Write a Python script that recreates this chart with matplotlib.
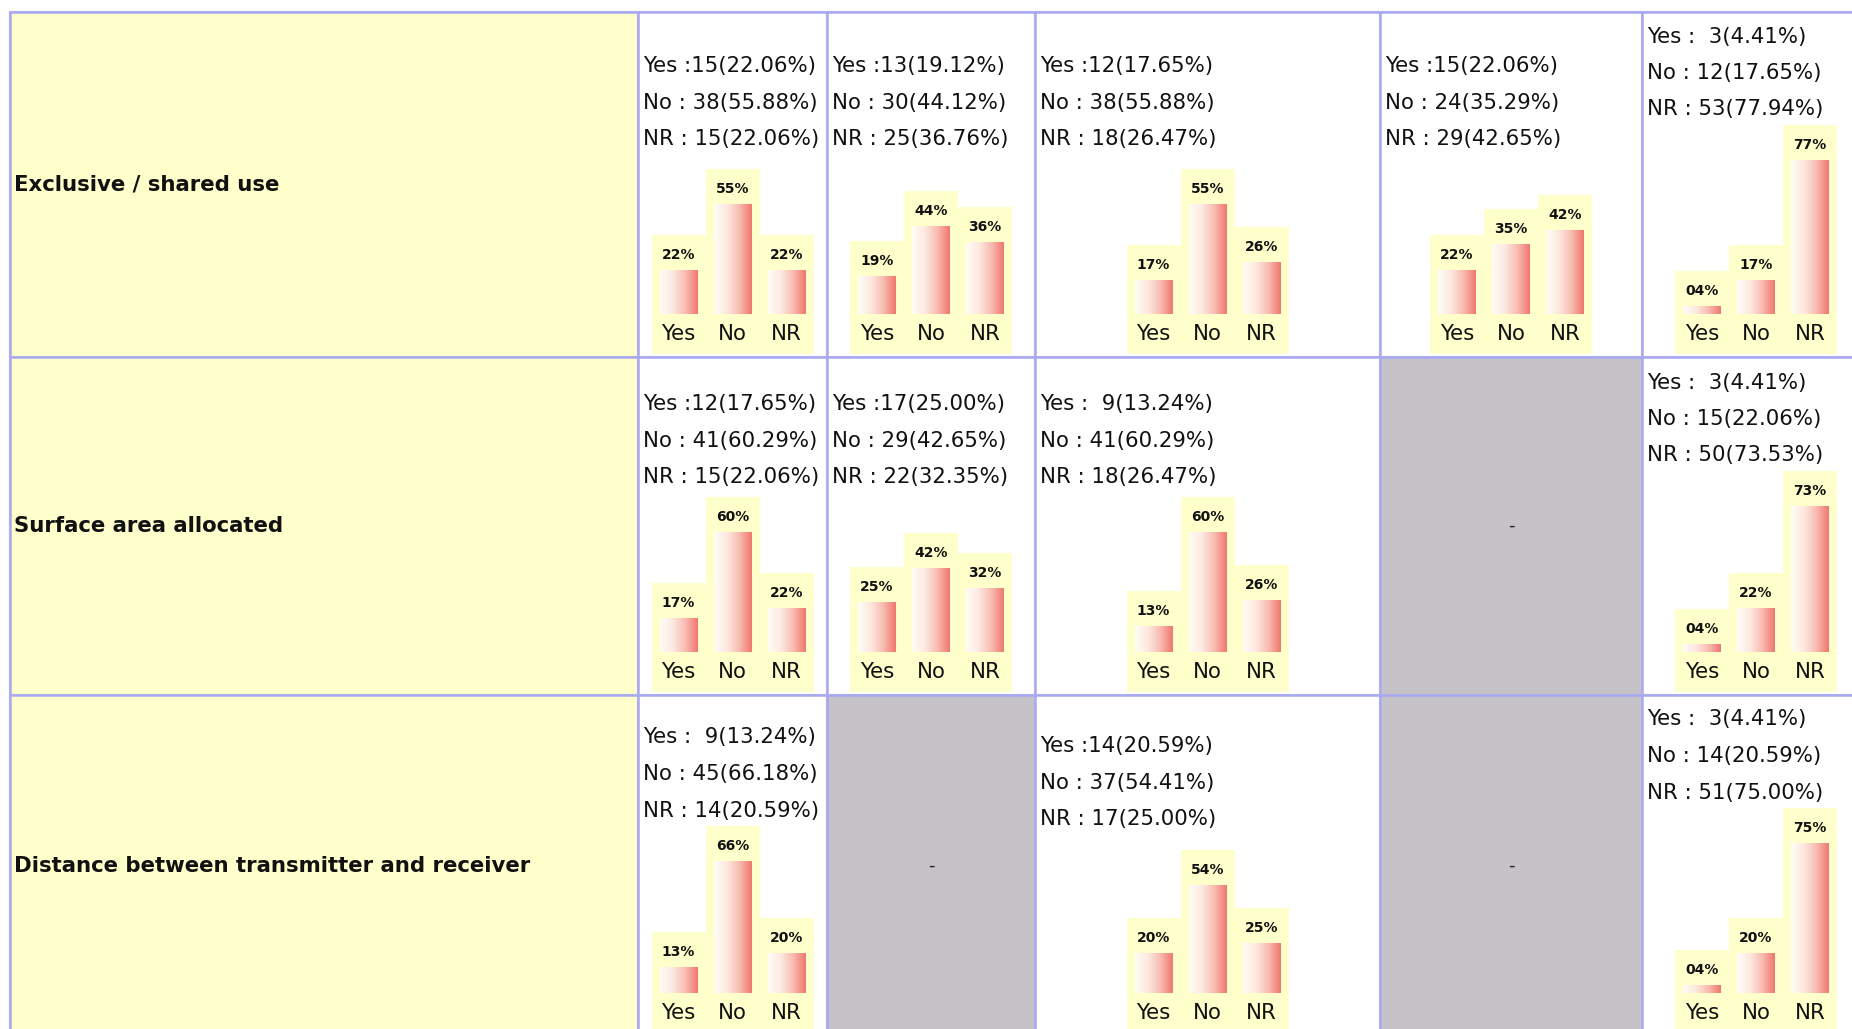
import numpy as np
import matplotlib.pyplot as plt
from matplotlib.colors import LinearSegmentedColormap

W, H = 1852, 1029

row_labels = ['Exclusive / shared use',
              'Surface area allocated',
              'Distance between transmitter and receiver']
answers = ['Yes', 'No', 'NR']
total = 68

# respondent counts (Yes, No, NR) for the five question columns, None = no data
exclusive_counts = [[15, 38, 15], [13, 30, 25], [12, 38, 18], [15, 24, 29], [3, 12, 53]]
surface_counts = [[12, 41, 15], [17, 29, 22], [9, 41, 18], None, [3, 15, 50]]
distance_counts = [[9, 45, 14], None, [14, 37, 17], None, [3, 14, 51]]
table_counts = [exclusive_counts, surface_counts, distance_counts]

# layout (pixels)
col_edges = [10, 638, 827, 1035, 1380, 1642, 1870]
row_edges = [12, 357, 695, 1036]
text_pad = [54, 47, 51]

YELLOW = '#ffffcc'
GREY = '#c5c3c7'
LAVENDER = '#a8a8f4'
FONT = ['DejaVu Sans']

bar_cmap = LinearSegmentedColormap.from_list(
    'bar', ['#fffdf6', '#fde9e0', '#f9bcb2', '#f07870'])
gradient = np.linspace(0, 1, 64).reshape(1, -1)


def count_line(label, n, pct):
    pad = '  ' if n < 10 else ''
    sep = ' :' if label == 'Yes' else ' : '
    return f'{label}{sep}{pad}{n}({pct:.2f}%)'


def mini_chart(fig, x0, x1, baseline, values):
    # 1 unit = 2 px, baseline at y=0
    cx = (x0 + x1) / 2
    left, width = cx - 81, 162
    bottom_px = baseline + 40
    height = 280
    ax = fig.add_axes([left / W, (H - bottom_px) / H, width / W, height / H])
    ax.axis('off')
    ax.patch.set_alpha(0)
    x = np.arange(len(values))
    ax.bar(x, values + 17.5 + 19.75, bottom=-19.75, width=1.0,
           color=YELLOW, linewidth=0)
    bars = ax.bar(x, values, width=0.7, color='none', linewidth=0)
    for xi, v, b in zip(x, values, bars):
        im = ax.imshow(gradient, cmap=bar_cmap, aspect='auto',
                       extent=[xi - 0.35, xi + 0.35, 0, max(v, 0.5)],
                       interpolation='bicubic', zorder=2)
        im.set_clip_path(b)
        ax.text(xi, v + 7.5, f'{int(v):02d}%', ha='center', va='center',
                fontsize=10, fontweight='bold', family=FONT, color='#111111')
        ax.text(xi, -10, answers[xi], ha='center', va='center',
                fontsize=15.3, family=FONT, color='#111111')
    ax.set_xlim(-0.5, 2.5)
    ax.set_ylim(-20, 120)


fig = plt.figure(figsize=(W / 100, H / 100), dpi=100)
bg = fig.add_axes([0, 0, 1, 1])
bg.set_xlim(0, W)
bg.set_ylim(H, 0)
bg.axis('off')

for r, row in enumerate(table_counts):
    top, bot = row_edges[r], row_edges[r + 1]
    baseline = bot - 43
    # label cell
    bg.add_patch(plt.Rectangle((col_edges[0], top), col_edges[1] - col_edges[0],
                               bot - top, color=YELLOW, lw=0))
    bg.text(col_edges[0] + 4, (top + bot) / 2, row_labels[r], ha='left', va='center',
            fontsize=15.3, fontweight='bold', family=FONT, color='#111111')
    for c, counts in enumerate(row):
        x0, x1 = col_edges[c + 1], col_edges[c + 2]
        if counts is None:
            bg.add_patch(plt.Rectangle((x0, top), x1 - x0, bot - top, color=GREY, lw=0))
            bg.text((x0 + x1) / 2, (top + bot) / 2, '-', ha='center', va='center',
                    fontsize=13, color='#222222')
            continue
        counts = np.array(counts)
        pct = counts / total * 100
        values = np.floor(pct)
        mini_chart(fig, x0, x1, baseline, values)
        bg_top = baseline - 2 * values.max() - 35
        y1 = min(top + text_pad[r], bg_top - 88.5)
        for i, lab in enumerate(answers):
            bg.text(x0 + 5, y1 + i * 36.5, count_line(lab, counts[i], pct[i]),
                    ha='left', va='center', fontsize=15.3, family=FONT,
                    color='#111111')

# table grid
for x in col_edges:
    bg.plot([x - 1.5, x - 1.5], [row_edges[0], H + 10], color='#c4c4cc', lw=0.8)
    bg.plot([x, x], [row_edges[0], H + 10], color=LAVENDER, lw=1.8)
for y in row_edges:
    bg.plot([col_edges[0], W + 10], [y - 1.5, y - 1.5], color='#c4c4cc', lw=0.8)
    bg.plot([col_edges[0], W + 10], [y, y], color=LAVENDER, lw=1.8)

fig.savefig('out.png', dpi=100, facecolor='white')
